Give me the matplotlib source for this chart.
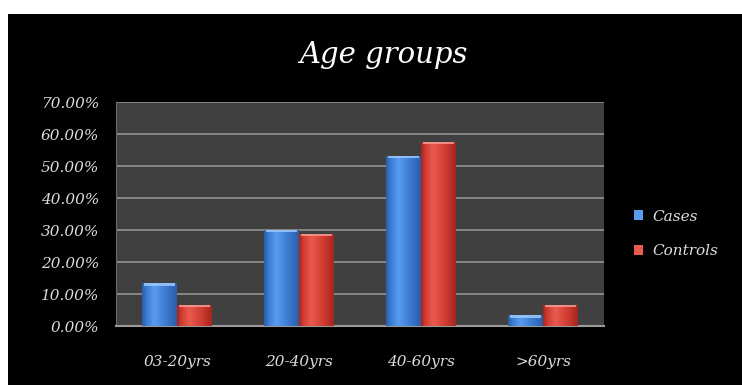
"""
Grouped bar chart of age-group distribution, cases vs controls.
"""

import numpy as np
import matplotlib.pyplot as plt
from matplotlib.colors import LinearSegmentedColormap
from matplotlib.patches import Patch, Rectangle

# --- data -----------------------------------------------------------------
categories = ["03-20yrs", "20-40yrs", "40-60yrs", ">60yrs"]
cases = [13.33, 30.00, 53.33, 3.33]
controls = [6.67, 28.89, 57.78, 6.67]
series_names = ["Cases", "Controls"]
yticks = [0, 10, 20, 30, 40, 50, 60, 70]

# --- styling --------------------------------------------------------------
FONT = "DejaVu Serif"
TEXT_COLOR = "#dcdcdc"
BLUE = ("#2c5ea8", "#5a9cf0", "#3a7ad2", "#9cc8ff")   # edge, light, mid, cap
RED = ("#a4261f", "#ea5a4f", "#d03c32", "#f59a92")


def bevel_cmap(edge, light, mid):
    return LinearSegmentedColormap.from_list(
        "bevel", [(0.0, edge), (0.12, mid), (0.35, light), (0.7, mid), (1.0, edge)]
    )


def shade_bars(ax, bars, colors):
    edge, light, mid, cap = colors
    cmap = bevel_cmap(edge, light, mid)
    grad = np.linspace(0, 1, 64).reshape(1, -1)
    for b in bars:
        x0, w, h = b.get_x(), b.get_width(), b.get_height()
        im = ax.imshow(grad, cmap=cmap, aspect="auto", extent=(x0, x0 + w, 0, h),
                       zorder=3, interpolation="bicubic")
        im.set_clip_path(b)
        # light rim on the top face
        capr = Rectangle((x0 + w * 0.06, h - 0.7), w * 0.88, 0.7, facecolor=cap,
                         edgecolor="none", alpha=0.85, zorder=4)
        ax.add_patch(capr)


fig = plt.figure(figsize=(7.42, 3.85), dpi=100)
fig.patch.set_facecolor("black")
# thin white margin along the top and left edges
fig.patches.append(Rectangle((0, 1 - 14 / 385), 1, 14 / 385, transform=fig.transFigure,
                             facecolor="white", edgecolor="none"))
fig.patches.append(Rectangle((0, 0), 8 / 742, 1, transform=fig.transFigure,
                             facecolor="white", edgecolor="none"))

ax = fig.add_axes([116 / 742, 59 / 385, 488 / 742, 223.5 / 385])
ax.set_facecolor("#404040")

x = np.arange(len(categories))
w = 0.286
b1 = ax.bar(x - w / 2, cases, w, color=BLUE[2], zorder=2)
b2 = ax.bar(x + w / 2, controls, w, color=RED[2], zorder=2)
shade_bars(ax, b1, BLUE)
shade_bars(ax, b2, RED)

ax.set_xlim(-0.5, len(categories) - 0.5)
ax.set_ylim(0, 70)
ax.set_yticks(yticks)
ax.set_yticklabels([f"{v:.2f}%" for v in yticks])
ax.set_xticks(x)
ax.set_xticklabels(categories)
ax.yaxis.grid(True, color="#8c8c8c", linewidth=1.3, zorder=1)
ax.set_axisbelow(True)

for lab in ax.get_xticklabels() + ax.get_yticklabels():
    lab.set_fontfamily(FONT)
    lab.set_fontstyle("italic")
    lab.set_fontsize(11)
    lab.set_color(TEXT_COLOR)
ax.tick_params(axis="x", length=0, pad=21)
ax.tick_params(axis="y", length=0, pad=12)

for side in ("top", "right"):
    ax.spines[side].set_visible(False)
ax.spines["left"].set_color("#6a6a6a")
ax.spines["bottom"].set_color("#9a9a9a")
ax.spines["bottom"].set_linewidth(1.5)

fig.text(383 / 742, 1 - 55 / 385, "Age groups", ha="center", va="center",
         fontfamily=FONT, fontstyle="italic", fontsize=21, color="white")

handles = [Patch(facecolor=BLUE[1], edgecolor="none"),
           Patch(facecolor=RED[1], edgecolor="none")]
leg = fig.legend(handles, series_names, loc="center left",
                 bbox_to_anchor=(620 / 742, 1 - 234 / 385), frameon=False,
                 handlelength=0.6, handleheight=0.6, handletextpad=0.6,
                 labelspacing=1.35, prop={"family": FONT, "style": "italic", "size": 11})
for t in leg.get_texts():
    t.set_color(TEXT_COLOR)

fig.savefig("out.png", dpi=100, facecolor=fig.get_facecolor())
